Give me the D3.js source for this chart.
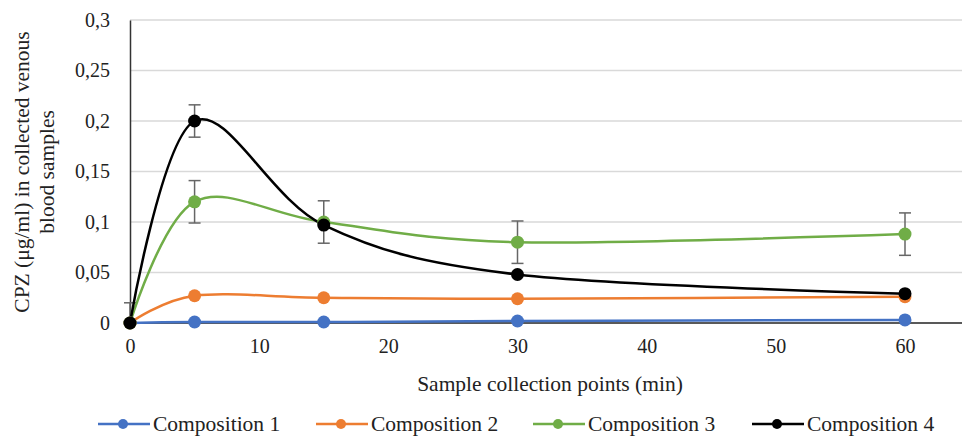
<!DOCTYPE html>
<html><head><meta charset="utf-8">
<script src="https://cdn.jsdelivr.net/npm/d3@7"></script>
<style>body{margin:0;background:#fff;} text{font-family:"Liberation Serif",serif;fill:#222;}</style>
</head><body>
<svg id="c" width="962" height="436"></svg>
<script>
const times = [0, 5, 15, 30, 60];
const seriesNames = ["Composition 1", "Composition 2", "Composition 3", "Composition 4"];
const colors = ["#4472C4", "#ED7D31", "#70AD47", "#000000"];
const comp1 = [0, 0.001, 0.001, 0.002, 0.003];
const comp2 = [0, 0.027, 0.025, 0.024, 0.026];
const comp3 = [0, 0.120, 0.100, 0.080, 0.088];
const comp4 = [0, 0.200, 0.097, 0.048, 0.029];
const err3 = [0.02, 0.021, 0.021, 0.021, 0.021];
const err4 = [0, 0.016, 0, 0, 0];
const yTicks = [0, 0.05, 0.1, 0.15, 0.2, 0.25, 0.3];
const xTicks = [0, 10, 20, 30, 40, 50, 60];
const values = [comp1, comp2, comp3, comp4];
const errs = [null, null, err3, err4];

const svg = d3.select("#c");
const x = d3.scaleLinear().domain([0, 60]).range([130, 905]);
const y = d3.scaleLinear().domain([0, 0.3]).range([323, 20]);
const fmt = d => String(d).replace(".", ",");

// gridlines
svg.append("g").selectAll("line").data(yTicks.filter(d => d > 0)).join("line")
  .attr("x1", 130).attr("x2", 962).attr("y1", d => y(d)).attr("y2", d => y(d))
  .attr("stroke", "#d9d9d9").attr("stroke-width", 1.3);

// y axis
const ya = svg.append("g").attr("transform", "translate(130,0)")
  .call(d3.axisLeft(y).tickValues(yTicks).tickFormat(fmt).tickSize(0).tickPadding(20));
ya.select(".domain").attr("stroke", "#333").attr("stroke-width", 1.5);
ya.selectAll("text").style("font-family", "Liberation Serif").style("font-size", "20px").attr("fill", "#222");

// x axis
const xa = svg.append("g").attr("transform", "translate(0,323)")
  .call(d3.axisBottom(x).tickValues(xTicks).tickFormat(fmt).tickSize(0).tickPadding(16));
xa.select(".domain").remove();
xa.selectAll("text").style("font-family", "Liberation Serif").style("font-size", "20px").attr("fill", "#222");
svg.append("line").attr("x1", 130).attr("x2", 962).attr("y1", y(0)).attr("y2", y(0))
  .attr("stroke", "#222").attr("stroke-width", 1.5);

// clip
svg.append("clipPath").attr("id", "clip").append("rect").attr("x", 100).attr("y", 0).attr("width", 862).attr("height", 323);

// error bars
errs.forEach((e, si) => {
  if (!e) return;
  const g = svg.append("g").attr("clip-path", "url(#clip)");
  times.forEach((t, i) => {
    if (!e[i]) return;
    const v = values[si][i];
    const cx = x(t), y1 = y(v + e[i]), y2 = y(v - e[i]);
    g.append("line").attr("x1", cx).attr("x2", cx).attr("y1", y1).attr("y2", y2).attr("stroke", "#666").attr("stroke-width", 1.5);
    g.append("line").attr("x1", cx - 6).attr("x2", cx + 6).attr("y1", y1).attr("y2", y1).attr("stroke", "#666").attr("stroke-width", 1.5);
    g.append("line").attr("x1", cx - 6).attr("x2", cx + 6).attr("y1", y2).attr("y2", y2).attr("stroke", "#666").attr("stroke-width", 1.5);
  });
});

// lines
const line = d3.line().x((d, i) => x(times[i])).y(d => y(d)).curve(d3.curveCardinal.tension(0));
values.forEach((vals, si) => {
  svg.append("path").attr("d", line(vals)).attr("fill", "none")
    .attr("stroke", colors[si]).attr("stroke-width", 2.5);
});
values.forEach((vals, si) => {
  svg.append("g").selectAll("circle").data(vals).join("circle")
    .attr("cx", (d, i) => x(times[i])).attr("cy", d => y(d)).attr("r", 6.5)
    .attr("fill", colors[si]);
});

// axis titles
svg.append("text").attr("x", 550).attr("y", 391).attr("text-anchor", "middle")
  .style("font-size", "21.5px").text("Sample collection points (min)");
const yt = svg.append("text").attr("transform", "translate(0,172) rotate(-90)").attr("text-anchor", "middle")
  .style("font-size", "21.5px");
yt.append("tspan").attr("x", 0).attr("y", 29).text("CPZ (μg/ml) in collected venous");
yt.append("tspan").attr("x", 0).attr("y", 54).text("blood samples");

// legend
const legX = [98, 316, 533, 752];
seriesNames.forEach((n, i) => {
  const g = svg.append("g").attr("transform", `translate(${legX[i]},424)`);
  g.append("line").attr("x1", 0).attr("x2", 52).attr("stroke", colors[i]).attr("stroke-width", 2.5);
  g.append("circle").attr("cx", 25).attr("r", 5).attr("fill", colors[i]);
  g.append("text").attr("x", 55).attr("y", 7).style("font-size", "21.5px").text(n);
});
</script>
</body></html>
